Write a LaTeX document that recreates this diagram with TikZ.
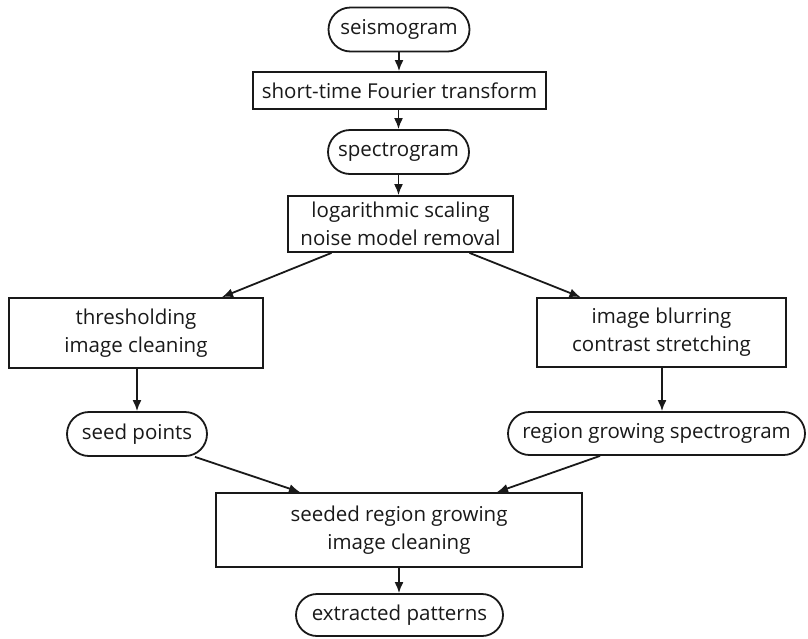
\documentclass[tikz,border=0pt]{standalone}
\usepackage{fontspec}
\setmainfont{Open Sans}
\usetikzlibrary{arrows.meta,shapes.misc,calc}
\begin{document}
\begin{tikzpicture}[x=1pt,y=-1pt,
  every node/.style={font=\fontsize{20.5}{28}\selectfont, align=center, inner sep=0pt, line width=1.8pt, text=black!90},
  pill/.style={draw=black!90, rounded rectangle},
  box/.style={draw=black!90, rectangle},
  arr/.style={draw=black!90, line width=1.8pt, -{Latex[length=11pt,width=9pt]}}]
\useasboundingbox (0,0) rectangle (808,638);
\node[pill, minimum width=141pt, minimum height=44pt] (seis) at (399,29.5) {seismogram};
\node[box, minimum width=293pt, minimum height=37pt] (stft) at (399.5,90.5) {short-time Fourier transform};
\node[pill, minimum width=141pt, minimum height=44pt] (spec) at (398.5,152) {spectrogram};
\node[box, minimum width=225pt, minimum height=56pt] (log) at (400.5,224) {logarithmic scaling\\noise model removal};
\node[box, minimum width=254pt, minimum height=70pt] (thr) at (136,333) {thresholding\\image cleaning};
\node[box, minimum width=249pt, minimum height=69pt] (blur) at (661.5,332.5) {image blurring\\contrast stretching};
\node[pill, minimum width=140pt, minimum height=44pt] (seed) at (137,434) {seed points};
\node[pill, minimum width=297pt, minimum height=43pt] (rg) at (656.5,433.5) {region growing spectrogram};
\node[box, minimum width=366pt, minimum height=74pt] (seeded) at (399,530) {seeded region growing\\image cleaning};
\node[pill, minimum width=207pt, minimum height=42pt] (ext) at (399.5,615) {extracted patterns};
\coordinate (rgin) at ($(rg.north)+(5.5,0)$);
\draw[arr] (seis.south) -- (seis.south |- stft.north);
\draw[arr] (stft.south -| spec.south) -- (spec.north);
\draw[arr] (spec.south) -- (spec.south |- log.north);
\draw[arr] ($(log.south)+(-69,0)$) -- ($(thr.north)+(86,0)$);
\draw[arr] ($(log.south)+(69,0)$) -- ($(blur.north)+(-81,0)$);
\draw[arr] (seed.north |- thr.south) -- (seed.north);
\draw[arr] (rgin |- blur.south) -- (rgin);
\draw[arr] ($(seed.south)+(58,0)$) -- ($(seeded.north)+(-99,0)$);
\draw[arr] ($(rg.south)+(-56.5,0)$) -- ($(seeded.north)+(98,0)$);
\draw[arr] (seeded.south) -- (seeded.south |- ext.north);
\end{tikzpicture}
\end{document}
